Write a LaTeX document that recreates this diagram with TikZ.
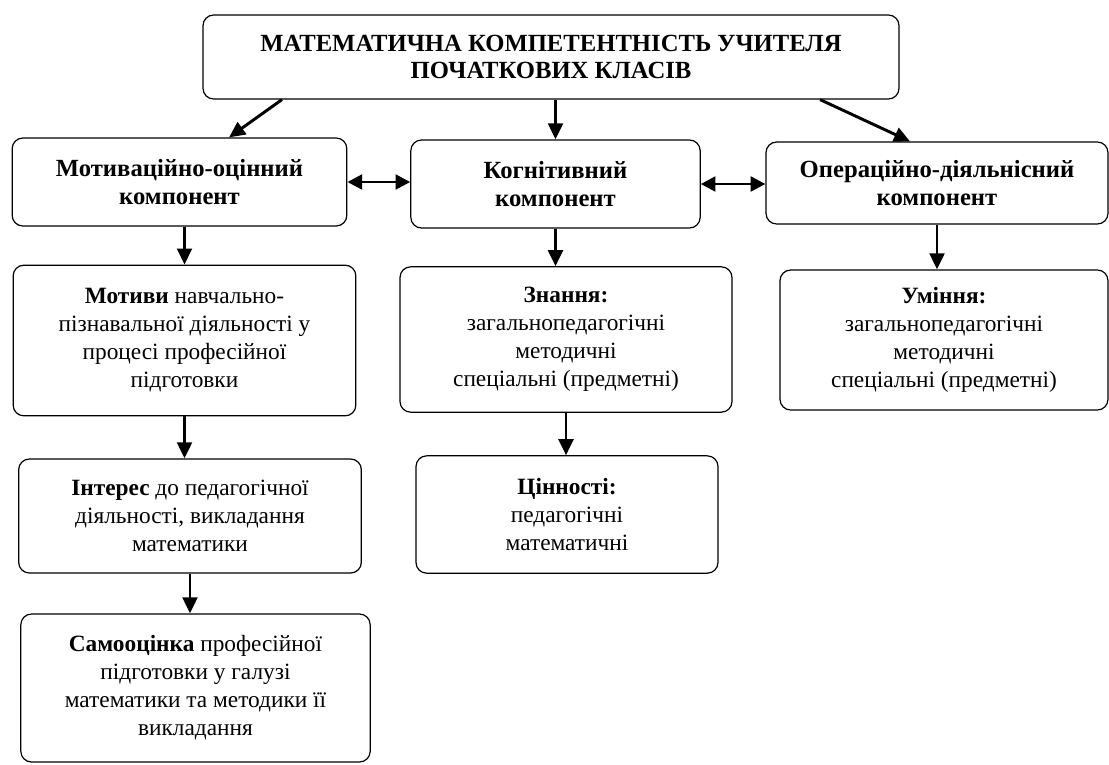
\documentclass[tikz,border=0pt]{standalone}
\usepackage{fontspec}
\setmainfont{Liberation Serif}
\usetikzlibrary{arrows.meta}

\begin{document}
\begin{tikzpicture}[x=0.75pt,y=-0.75pt,
        box/.style={draw,rectangle,rounded corners=8pt,line width=0.9pt,align=center,inner sep=2pt,font=\fontsize{17.5}{21}\selectfont},
        headbox/.style={box,font=\fontsize{18.5}{20.5}\selectfont\bfseries},
        arr/.style={-{Triangle[length=12pt,width=11pt]},line width=2.2pt},
        darr/.style={{Triangle[length=11pt,width=11pt]}-{Triangle[length=11pt,width=11pt]},line width=2.2pt}]
    \useasboundingbox (0,0) rectangle (1109,764);
    % top
    \node[headbox,minimum width=522pt,minimum height=63pt] (top) at (551,57) {МАТЕМАТИЧНА КОМПЕТЕНТНІСТЬ УЧИТЕЛЯ\\ПОЧАТКОВИХ КЛАСІВ};
    % components
    \node[headbox,minimum width=251pt,minimum height=66pt] (motiv) at (179.5,182) {Мотиваційно-оцінний\\компонент};
    \node[headbox,minimum width=217pt,minimum height=66pt] (cogn) at (555.5,184) {Когнітивний\\компонент};
    \node[headbox,minimum width=256.5pt,minimum height=61.5pt] (oper) at (937,183) {Операційно-діяльнісний\\компонент};
    % left column
    \node[box,minimum width=257pt,minimum height=113pt] (motivy) at (184.5,340.5) {\textbf{Мотиви} навчально-\\пізнавальної діяльності у\\процесі професійної\\підготовки};
    \node[box,minimum width=257pt,minimum height=85.5pt] (interes) at (190,516) {\textbf{Інтерес} до педагогічної\\діяльності, викладання\\математики};
    \node[box,minimum width=262pt,minimum height=111pt] (samo) at (195.5,688) {\textbf{Самооцінка} професійної\\підготовки у галузі\\математики та методики її\\викладання};
    % middle column
    \node[box,minimum width=249pt,minimum height=109pt] (znannia) at (566,339.5) {\textbf{Знання:}\\загальнопедагогічні\\методичні\\спеціальні (предметні)};
    \node[box,minimum width=226.5pt,minimum height=88pt] (cinn) at (567,514.5) {\textbf{Цінності:}\\педагогічні\\математичні};
    % right column
    \node[box,minimum width=246pt,minimum height=105pt] (umin) at (944,340) {\textbf{Уміння:}\\загальнопедагогічні\\методичні\\спеціальні (предметні)};

    \draw[arr] (top.189) -- (motiv.42);
    \draw[arr] (top.south -| cogn.north) -- (cogn.north);
    \draw[arr] (top.351.6) -- (oper.123.4);
    \draw[darr] (motiv.east) -- (motiv.east -| cogn.west);
    \draw[darr] (cogn.east) -- (cogn.east -| oper.west);
    \draw[arr] (motiv.south -| motivy.north) -- (motivy.north);
    \draw[arr] (motivy.south) -- (motivy.south |- interes.north);
    \draw[arr] (interes.south) -- (interes.south |- samo.north);
    \draw[arr] (cogn.south) -- (cogn.south |- znannia.north);
    \draw[arr] (znannia.south) -- (znannia.south |- cinn.north);
    \draw[arr] (oper.south) -- (oper.south |- umin.north);
\end{tikzpicture}
\end{document}
